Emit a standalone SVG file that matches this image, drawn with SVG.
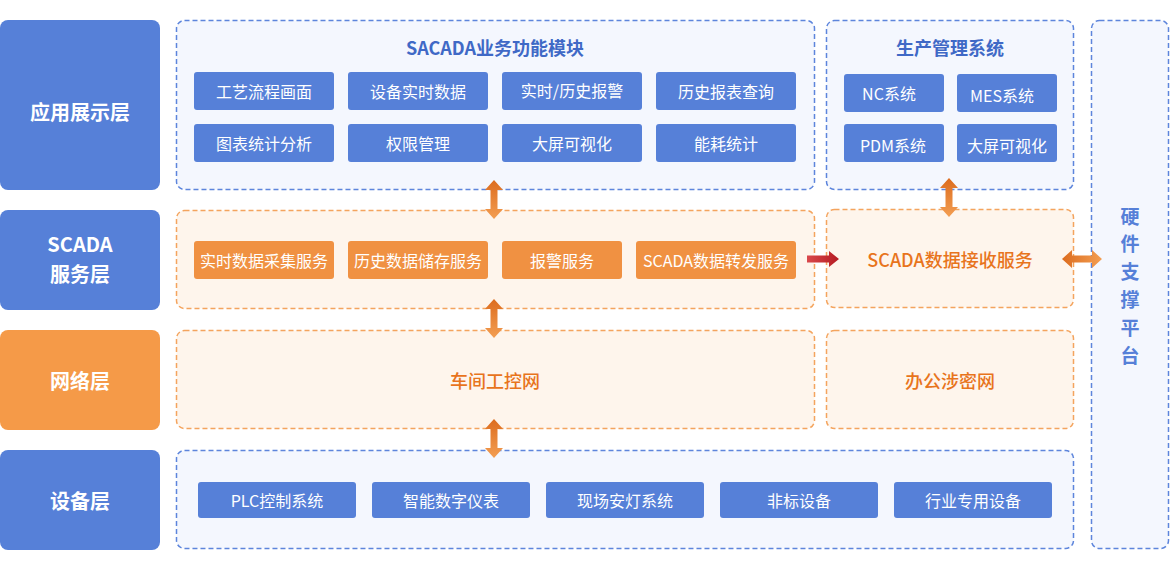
<svg xmlns="http://www.w3.org/2000/svg" width="1170" height="570" viewBox="0 0 1170 570">
<defs>
<linearGradient id="gv" x1="0" y1="0" x2="0" y2="1"><stop offset="0" stop-color="#dc6c1e"/><stop offset="1" stop-color="#f39e52"/></linearGradient>
<linearGradient id="gh" x1="0" y1="0" x2="1" y2="0"><stop offset="0" stop-color="#dc6c1e"/><stop offset="1" stop-color="#f39e52"/></linearGradient>
<linearGradient id="gr" x1="0" y1="0" x2="1" y2="0"><stop offset="0" stop-color="#d9484c"/><stop offset="1" stop-color="#b51b22"/></linearGradient>
<style>
text{font-family:"Noto Sans CJK SC","Noto Sans",sans-serif;text-anchor:middle;dominant-baseline:central}
.layer{fill:#5680d8}
.layero{fill:#f59a48}
.lt{fill:#fff;font-size:20px;font-weight:bold}
.dbb{fill:#f4f7fe;stroke:#5d85dc;stroke-width:1.5;stroke-dasharray:5 3}
.dbo{fill:#fef5ec;stroke:#f4a45e;stroke-width:1.5;stroke-dasharray:5 3}
.bb{fill:#5680d8}
.bo{fill:#f09142}
.bt{fill:#fff;font-size:16px}
.title{fill:#3f69c6;font-size:18px;font-weight:bold}
.ot{fill:#e8741c;font-size:18px;font-weight:500}
.ht{fill:#5680d8;font-size:19px;font-weight:bold}
</style>
</defs>
<rect width="1170" height="570" fill="#fff"/>

<g id="layer-app"><rect class="layer" x="0" y="20" width="160" height="170" rx="8"/><text class="lt" x="80" y="111">应用展示层</text></g>
<g id="layer-scada"><rect class="layer" x="0" y="210" width="160" height="100" rx="8"/><text class="lt" x="80" y="243">SCADA</text><text class="lt" x="80" y="273">服务层</text></g>
<g id="layer-net"><rect class="layero" x="0" y="330" width="160" height="100" rx="8"/><text class="lt" x="80" y="380">网络层</text></g>
<g id="layer-dev"><rect class="layer" x="0" y="450" width="160" height="100" rx="8"/><text class="lt" x="80" y="500">设备层</text></g>

<g id="sacada-modules">
<rect class="dbb" x="176.5" y="20.5" width="638" height="169" rx="8"/>
<text class="title" x="495" y="47">SACADA业务功能模块</text>
<rect class="bb" x="194" y="72" width="140" height="38" rx="3"/><text class="bt" x="264" y="91">工艺流程画面</text>
<rect class="bb" x="348" y="72" width="140" height="38" rx="3"/><text class="bt" x="418" y="91">设备实时数据</text>
<rect class="bb" x="502" y="72" width="140" height="38" rx="3"/><text class="bt" x="572" y="90">实时/历史报警</text>
<rect class="bb" x="656" y="72" width="140" height="38" rx="3"/><text class="bt" x="726" y="91">历史报表查询</text>
<rect class="bb" x="194" y="124" width="140" height="38" rx="3"/><text class="bt" x="264" y="143">图表统计分析</text>
<rect class="bb" x="348" y="124" width="140" height="38" rx="3"/><text class="bt" x="418" y="143">权限管理</text>
<rect class="bb" x="502" y="124" width="140" height="38" rx="3"/><text class="bt" x="572" y="143">大屏可视化</text>
<rect class="bb" x="656" y="124" width="140" height="38" rx="3"/><text class="bt" x="726" y="143">能耗统计</text>
</g>

<g id="production-system">
<rect class="dbb" x="826.5" y="20.5" width="247" height="169" rx="8"/>
<text class="title" x="950" y="47">生产管理系统</text>
<rect class="bb" x="844" y="74" width="100" height="38" rx="3"/><text class="bt" x="889" y="93">NC系统</text>
<rect class="bb" x="957" y="74" width="100" height="38" rx="3"/><text class="bt" x="1002" y="95">MES系统</text>
<rect class="bb" x="844" y="124" width="100" height="38" rx="3"/><text class="bt" x="893" y="145">PDM系统</text>
<rect class="bb" x="957" y="124" width="100" height="38" rx="3"/><text class="bt" x="1007" y="145">大屏可视化</text>
</g>

<g id="hardware-platform">
<rect class="dbb" x="1091.5" y="20.5" width="77" height="528" rx="8"/>
<text class="ht" x="1130" y="215">硬</text>
<text class="ht" x="1130" y="242">件</text>
<text class="ht" x="1130" y="270">支</text>
<text class="ht" x="1130" y="298">撑</text>
<text class="ht" x="1130" y="326">平</text>
<text class="ht" x="1130" y="354">台</text>
</g>

<g id="scada-services">
<rect class="dbo" x="176.5" y="210.5" width="638" height="98" rx="8"/>
<rect class="bo" x="194" y="241" width="140" height="38" rx="3"/><text class="bt" x="264" y="260">实时数据采集服务</text>
<rect class="bo" x="348" y="241" width="140" height="38" rx="3"/><text class="bt" x="418" y="260">历史数据储存服务</text>
<rect class="bo" x="502" y="241" width="120" height="38" rx="3"/><text class="bt" x="562" y="260">报警服务</text>
<rect class="bo" x="636" y="241" width="160" height="38" rx="3"/><text class="bt" x="716" y="260">SCADA数据转发服务</text>
</g>

<g id="scada-receive">
<rect class="dbo" x="826.5" y="209.5" width="247" height="98" rx="8"/>
<text class="ot" x="950" y="259">SCADA数据接收服务</text>
</g>

<g id="workshop-net">
<rect class="dbo" x="176.5" y="330.5" width="638" height="98" rx="8"/>
<text class="ot" x="495" y="380">车间工控网</text>
</g>

<g id="office-net">
<rect class="dbo" x="826.5" y="330.5" width="247" height="98" rx="8"/>
<text class="ot" x="950" y="380">办公涉密网</text>
</g>

<g id="devices">
<rect class="dbb" x="176.5" y="450.5" width="897" height="98" rx="8"/>
<rect class="bb" x="198" y="482" width="158" height="36" rx="3"/><text class="bt" x="277" y="500">PLC控制系统</text>
<rect class="bb" x="372" y="482" width="158" height="36" rx="3"/><text class="bt" x="451" y="500">智能数字仪表</text>
<rect class="bb" x="546" y="482" width="158" height="36" rx="3"/><text class="bt" x="625" y="500">现场安灯系统</text>
<rect class="bb" x="720" y="482" width="158" height="36" rx="3"/><text class="bt" x="799" y="500">非标设备</text>
<rect class="bb" x="894" y="482" width="158" height="36" rx="3"/><text class="bt" x="973" y="500">行业专用设备</text>
</g>

<g id="connectors">
<path fill="url(#gv)" d="M494,180 L503,190 L497.5,190 L497.5,209 L503,209 L494,219 L485,209 L490.5,209 L490.5,190 L485,190 Z"/>
<path fill="url(#gv)" d="M494,299 L503,309 L497.5,309 L497.5,328 L503,328 L494,338 L485,328 L490.5,328 L490.5,309 L485,309 Z"/>
<path fill="url(#gv)" d="M494,419 L503,429 L497.5,429 L497.5,448 L503,448 L494,458 L485,448 L490.5,448 L490.5,429 L485,429 Z"/>
<path fill="url(#gv)" d="M949,178 L958,188 L952.5,188 L952.5,207 L958,207 L949,217 L940,207 L945.5,207 L945.5,188 L940,188 Z"/>
<path fill="url(#gr)" d="M807,255.5 L829,255.5 L829,251 L839,259 L829,267 L829,262.5 L807,262.5 Z"/>
<path fill="url(#gh)" d="M1062,259 L1072,250 L1072,255.5 L1092,255.5 L1092,250 L1102,259 L1092,268 L1092,262.5 L1072,262.5 L1072,268 Z"/>
</g>
</svg>
